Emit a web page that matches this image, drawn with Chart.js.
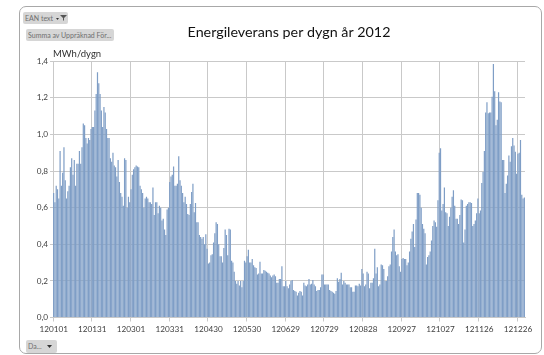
<!DOCTYPE html>
<html lang="en">
  <head>
    <meta charset="UTF-8" />
    <title>Energileverans per dygn</title>
    <script src="https://cdnjs.cloudflare.com/ajax/libs/Chart.js/4.4.1/chart.umd.min.js"></script>
    <style>
      html, body { margin: 0; padding: 0; background: #fff; overflow: hidden; }
      #page { position: relative; width: 544px; height: 355px; font-family: Lato, sans-serif; filter: blur(0.35px); }
      #frame { position: absolute; left: 19px; top: 6px; width: 521px; height: 346px; border: 1px solid #a8a8a8; border-radius: 7px; }
      canvas { position: absolute; left: 0; top: 0; }
      .knapp { position: absolute; background: #d6d6d6; color: #6f6f6f; font-size: 7px; line-height: 12px; height: 12px; border-radius: 2px; padding-left: 2px; white-space: nowrap; box-sizing: border-box; }
      #enhet { position: absolute; left: 53px; top: 48px; font-size: 9.5px; line-height: 12px; color: #303030; }
    </style>
  </head>

  <body>
    <div id="page">
      <div id="frame"></div>
      <canvas id="myChart" width="544" height="355"></canvas>
      <div class="knapp" style="left:23px;top:12px;width:45px">EAN text
        <svg width="11" height="8" style="position:absolute;left:33px;top:2px"><path d="M4 1h7L8 4v3L7 6V4z" fill="#555"/><path d="M0 4h3L1.500 6z" fill="#333"/></svg>
      </div>
      <div class="knapp" style="left:26px;top:29px;width:88px">Summa av Uppräknad För...</div>
      <div class="knapp" style="left:26px;top:340px;width:31px;height:13px">Da...
        <svg width="6" height="4" style="position:absolute;left:21px;top:5px"><path d="M0 0h5L2.500 3z" fill="#333"/></svg>
      </div>
      <div id="enhet">MWh/dygn</div>
    </div>

    <script>
      // one value per day, MWh/dygn (30 per row block)
      const dygnsvarden = [
        .68,.63,.72,.70,.65,.91,.72,.79,.93,.75,.65,.69,.72,.82,.87,.78,.86,.72,.84,.84,.91,.84,.93,1.06,1.05,.98,.95,.98,.97,1.03,
        1.04,1.04,1.13,1.22,1.34,1.28,1.22,1.13,1.04,1.15,1.12,1.03,.98,.98,.87,.85,.90,.83,.82,.77,.86,.74,.68,.66,.61,.87,.86,.60,.66,.63,
        .70,.78,.81,.82,.83,.825,.82,.72,.70,.68,.60,.65,.66,.65,.63,.63,.62,.71,.56,.63,.63,.57,.61,.60,.53,.54,.48,.45,.59,.60,
        .74,.77,.78,.825,.72,.72,.73,.88,.75,.72,.68,.63,.66,.62,.565,.56,.62,.685,.73,.575,.625,.52,.52,.45,.44,.43,.44,.40,.455,.375,
        .295,.30,.34,.345,.41,.46,.52,.51,.40,.335,.335,.30,.38,.48,.45,.34,.485,.48,.31,.30,.25,.20,.185,.20,.175,.20,.165,.20,.31,.30,
        .335,.37,.30,.30,.32,.285,.275,.27,.235,.24,.305,.24,.24,.26,.255,.25,.245,.24,.23,.22,.23,.235,.225,.19,.19,.21,.21,.28,.17,.17,
        .20,.17,.16,.18,.20,.205,.15,.145,.14,.12,.135,.145,.14,.12,.19,.175,.17,.18,.21,.18,.185,.205,.18,.17,.145,.15,.15,.165,.235,.235,
        .18,.18,.18,.18,.15,.145,.14,.135,.13,.145,.215,.195,.21,.245,.18,.20,.19,.18,.18,.18,.165,.165,.14,.14,.175,.175,.17,.185,.175,.265,
        .24,.17,.18,.25,.24,.16,.19,.19,.215,.375,.24,.275,.17,.18,.29,.285,.265,.20,.20,.225,.28,.29,.36,.44,.48,.36,.34,.345,.28,.25,.32,.325,
        .32,.32,.285,.30,.36,.43,.47,.51,.385,.535,.68,.68,.67,.60,.51,.485,.46,.29,.33,.34,
        .36,.42,.50,.53,.52,.495,.64,.90,.925,.585,.62,.71,.575,.57,.50,.55,.60,.66,.695,.61,.54,
        .54,.51,.56,.645,.64,.41,.48,.61,.62,.63,.63,.625,.50,.51,.53,.57,.65,.57,.585,.735,.795,
        .91,1.12,1.175,1.115,1.12,1.12,1.205,1.385,1.235,1.05,1.08,1.23,1.18,1.175,.86,.86,.68,.73,.775,.885,.85,
        .935,.98,.94,.905,.785,.895,.90,.97,.67,.65,.655
      ];
      const yTicks = [0, 0.2, 0.4, 0.6, 0.8, 1.0, 1.2, 1.4];
      const tickEvery = 30;

      // YYMMDD for every day of 2012
      const categories = [];
      for (let i = 0; i < dygnsvarden.length; i++) {
        const d = new Date(Date.UTC(2012, 0, 1 + i));
        const mm = String(d.getUTCMonth() + 1).padStart(2, "0");
        const dd = String(d.getUTCDate()).padStart(2, "0");
        categories.push("12" + mm + dd);
      }

      const gridColor = "#c9c9c9";
      const textColor = "#404040";

      const config = {
        type: "bar",
        data: {
          labels: categories,
          datasets: [{
            label: "Summa av Uppräknad För...",
            data: dygnsvarden,
            backgroundColor: "#7f9ec6",
            borderWidth: 0,
            barPercentage: 0.94,
            categoryPercentage: 1,
          }],
        },
        options: {
          responsive: false,
          animation: false,
          layout: { padding: { left: 22, right: 19, top: 24, bottom: 0 } },
          plugins: {
            legend: { display: false },
            tooltip: { enabled: false },
            title: {
              display: true,
              text: "Energileverans per dygn år 2012",
              fullSize: false,
              color: "#111",
              font: { family: "Lato", size: 14.3, weight: "normal" },
              padding: { top: 0, bottom: 20 },
            },
          },
          scales: {
            x: {
              grid: {
                color: (c) => (c.index % tickEvery === 0 ? gridColor : "transparent"),
                tickColor: (c) => (c.index % tickEvery === 0 ? gridColor : "transparent"),
                tickLength: 4,
                offset: true,
              },
              border: { color: gridColor },
              ticks: {
                autoSkip: false,
                maxRotation: 0,
                minRotation: 0,
                color: textColor,
                padding: 3,
                font: { family: "Lato", size: 8.2 },
                callback: function (value, index) {
                  return index % tickEvery === 0 ? this.getLabelForValue(value) : "";
                },
              },
              afterFit: (scale) => { scale.height = 37.5; },
            },
            y: {
              min: 0,
              max: 1.4,
              afterBuildTicks: (scale) => { scale.ticks = yTicks.map((v) => ({ value: v })); },
              grid: { color: gridColor, tickLength: 3 },
              border: { color: gridColor },
              ticks: {
                color: textColor,
                padding: 2,
                font: { family: "Lato", size: 8.2 },
                callback: (value) => value.toFixed(1).replace(".", ","),
              },
              afterFit: (scale) => { scale.width = 31; },
            },
          },
        },
      };

      const myChart = new Chart(document.getElementById("myChart"), config);
    </script>
  </body>
</html>
